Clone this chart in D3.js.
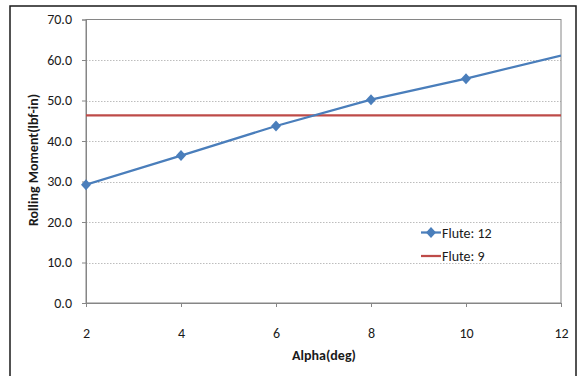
<!DOCTYPE html>
<html><head><meta charset="utf-8">
<script src="https://cdn.jsdelivr.net/npm/d3@7"></script>
<style>body{margin:0;background:#fff;}svg{display:block;font-family:Carlito,"Liberation Sans",Arial,sans-serif;}</style>
</head><body><svg id="c" width="582" height="376"></svg>
<script>
const alpha = [2, 4, 6, 8, 10, 12];
const flute12 = [29.2, 36.4, 43.7, 50.2, 55.4, 61.1];
const flute9 = [46.3, 46.3, 46.3, 46.3, 46.3, 46.3];
const yTicks = [0, 10, 20, 30, 40, 50, 60, 70];
const xTicks = [2, 4, 6, 8, 10, 12];
const seriesNames = ["Flute: 12", "Flute: 9"];

const FS = "14px";
const svg = d3.select("#c");
// outer chart border
svg.append("rect").attr("x",10).attr("y",6).attr("width",566).attr("height",380)
  .attr("fill","#fff").attr("stroke","#1a1a1a").attr("stroke-width",1.5);

const L=86, R=561, T=19.5, B=303;
const x = d3.scaleLinear().domain([2,12]).range([L,R]);
const y = d3.scaleLinear().domain([0,70]).range([B,T]);

// gridlines
svg.append("g").selectAll("line").data(yTicks.filter(d=>d>0&&d<70)).join("line")
  .attr("x1",L).attr("x2",R).attr("y1",d=>Math.round(y(d))+0.5).attr("y2",d=>Math.round(y(d))+0.5)
  .attr("stroke","#bdbdbd").attr("stroke-width",1).attr("stroke-dasharray","1.5,1.5");

// plot frame
svg.append("rect").attr("x",L).attr("y",T).attr("width",R-L).attr("height",B-T)
  .attr("fill","none").attr("stroke","#868686").attr("stroke-width",1);

// axes
const yAxis = d3.axisLeft(y).tickValues(yTicks).tickFormat(d3.format(".1f")).tickSize(4).tickPadding(10);
const gy = svg.append("g").attr("transform",`translate(${L},0)`).call(yAxis);
const xAxis = d3.axisBottom(x).tickValues(xTicks).tickFormat(d3.format("d")).tickSize(4).tickPadding(21.5);
const gx = svg.append("g").attr("transform",`translate(0,${B})`).call(xAxis);
[gy,gx].forEach(g=>{
  g.select(".domain").attr("stroke","#868686");
  g.selectAll(".tick line").attr("stroke","#868686");
  g.selectAll(".tick text").attr("fill","#1a1a1a").style("font-size",FS).style("font-family","Carlito,'Liberation Sans',Arial,sans-serif");
});

// clip
svg.append("clipPath").attr("id","pc").append("rect").attr("x",L).attr("y",T).attr("width",R-L).attr("height",B-T);
const plot = svg.append("g").attr("clip-path","url(#pc)");

const line = d3.line().x((d,i)=>x(alpha[i])).y(d=>y(d));
plot.append("path").datum(flute9).attr("d",line).attr("fill","none")
  .attr("stroke","#be4b48").attr("stroke-width",2.25);
plot.append("path").datum(flute12).attr("d",line).attr("fill","none")
  .attr("stroke","#4a7ebb").attr("stroke-width",2.25);
const diamond = "M0,-5.5L5,0L0,5.5L-5,0Z";
svg.append("g").selectAll("path").data(flute12.map((v,i)=>[alpha[i],v]).filter(d=>d[0]<x.domain()[1])).join("path")
  .attr("d",diamond).attr("transform",d=>`translate(${x(d[0])},${y(d[1])})`)
  .attr("fill","#4a7ebb");

// axis titles
svg.append("text").attr("transform","translate(38,160) rotate(-90)").attr("text-anchor","middle")
  .style("font-size",FS).style("font-weight","bold").attr("fill","#1a1a1a").text("Rolling Moment(lbf-in)");
svg.append("text").attr("x",324).attr("y",360).attr("text-anchor","middle")
  .style("font-size",FS).style("font-weight","bold").attr("fill","#1a1a1a").text("Alpha(deg)");

// legend
const colors = ["#4a7ebb","#be4b48"];
const lg = svg.append("g");
seriesNames.forEach((n,i)=>{
  const yy = 232.5 + i*23.5;
  lg.append("line").attr("x1",421).attr("x2",441).attr("y1",yy).attr("y2",yy)
    .attr("stroke",colors[i]).attr("stroke-width",2.25);
  if(i===0) lg.append("path").attr("d",diamond).attr("transform",`translate(431,${yy})`).attr("fill",colors[i]);
  lg.append("text").attr("x",442).attr("y",yy+5).style("font-size",FS).attr("fill","#1a1a1a").text(n);
});
</script></body></html>
